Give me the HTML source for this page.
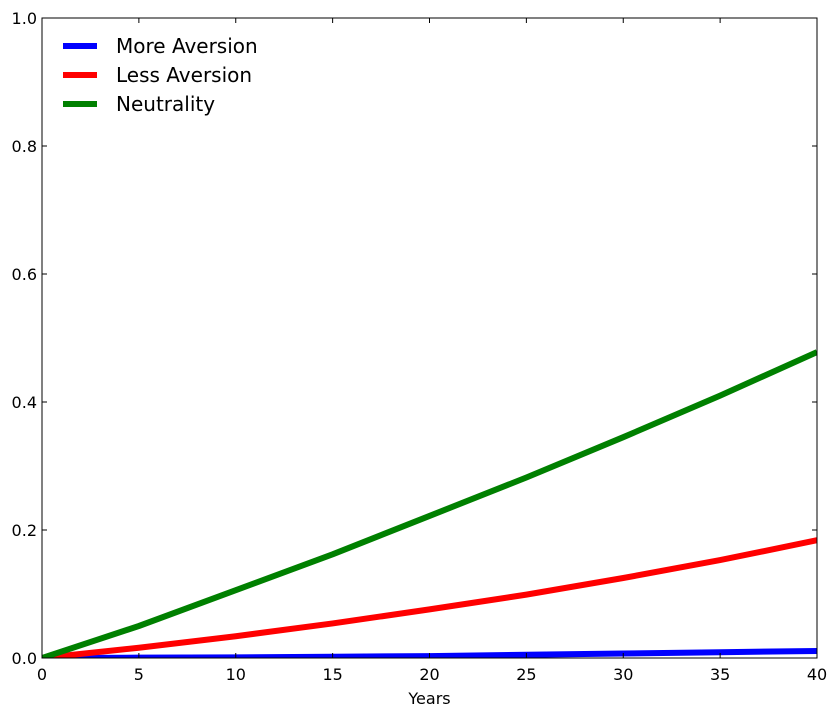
<!DOCTYPE html>
<html><head><meta charset="utf-8"><style>
body{margin:0;background:#fff;}
svg{display:block;font-family:"DejaVu Sans","Liberation Sans",sans-serif;}
</style></head><body>
<svg id="chart" width="837" height="717"><defs><clipPath id="pc"><rect x="42" y="18" width="775" height="640"/></clipPath></defs></svg>
<script>
const years=[0,5,10,15,20,25,30,35,40];
const moreAversion=[0,0.0005,0.001,0.002,0.003,0.005,0.007,0.009,0.011];
const lessAversion=[0,0.016,0.034,0.054,0.076,0.099,0.125,0.153,0.184];
const neutrality=[0,0.05,0.106,0.162,0.222,0.282,0.345,0.41,0.478];
const xTicks=[0,5,10,15,20,25,30,35,40];
const yTicks=[0,0.2,0.4,0.6,0.8,1.0];
const seriesNames=["More Aversion","Less Aversion","Neutrality"];
const seriesColors=["#0000ff","#ff0000","#008000"];

const svg=document.getElementById('chart');
const NS='http://www.w3.org/2000/svg';
const L=42,R=817,T=18,B=658;
const xs=v=>L+(v-0)/(40-0)*(R-L);
const ys=v=>B-(v-0)/(1-0)*(B-T);
function mk(tag,attrs){const e=document.createElementNS(NS,tag);for(const k in attrs)e.setAttribute(k,attrs[k]);svg.appendChild(e);return e;}

const series=[moreAversion,lessAversion,neutrality];
series.forEach((s,i)=>{
  const p=mk('polyline',{points:s.map((v,j)=>xs(years[j])+','+ys(v)).join(' '),fill:'none',stroke:seriesColors[i],'stroke-width':6,'stroke-linejoin':'round','clip-path':'url(#pc)'});
  
  
});
const frame=mk('rect',{x:L,y:T,width:R-L,height:B-T,fill:'none',stroke:'#000','stroke-width':1});



xTicks.forEach(t=>{
  const x=xs(t);
  mk('line',{x1:x,y1:B,x2:x,y2:B-5,stroke:'#000'});
  mk('line',{x1:x,y1:T,x2:x,y2:T+5,stroke:'#000'});
  const tx=mk('text',{x:x,y:B+22,'text-anchor':'middle','font-size':16});
  tx.textContent=t;
  
  
});
yTicks.forEach(t=>{
  const y=ys(t);
  mk('line',{x1:L,y1:y,x2:L+5,y2:y,stroke:'#000'});
  mk('line',{x1:R,y1:y,x2:R-5,y2:y,stroke:'#000'});
  const tx=mk('text',{x:L-5,y:y+6,'text-anchor':'end','font-size':16});
  tx.textContent=t.toFixed(1);
  
  
});
const xt=mk('text',{x:(L+R)/2,y:704,'text-anchor':'middle','font-size':16});
xt.textContent='Years';



seriesNames.forEach((n,i)=>{
  const y=46+i*29;
  const ln=mk('line',{x1:63,y1:y,x2:97,y2:y,stroke:seriesColors[i],'stroke-width':6});
  
  
  const tx=mk('text',{x:116,y:y+7,'font-size':20});
  tx.textContent=n;
  
  
});
</script>
</body></html>
